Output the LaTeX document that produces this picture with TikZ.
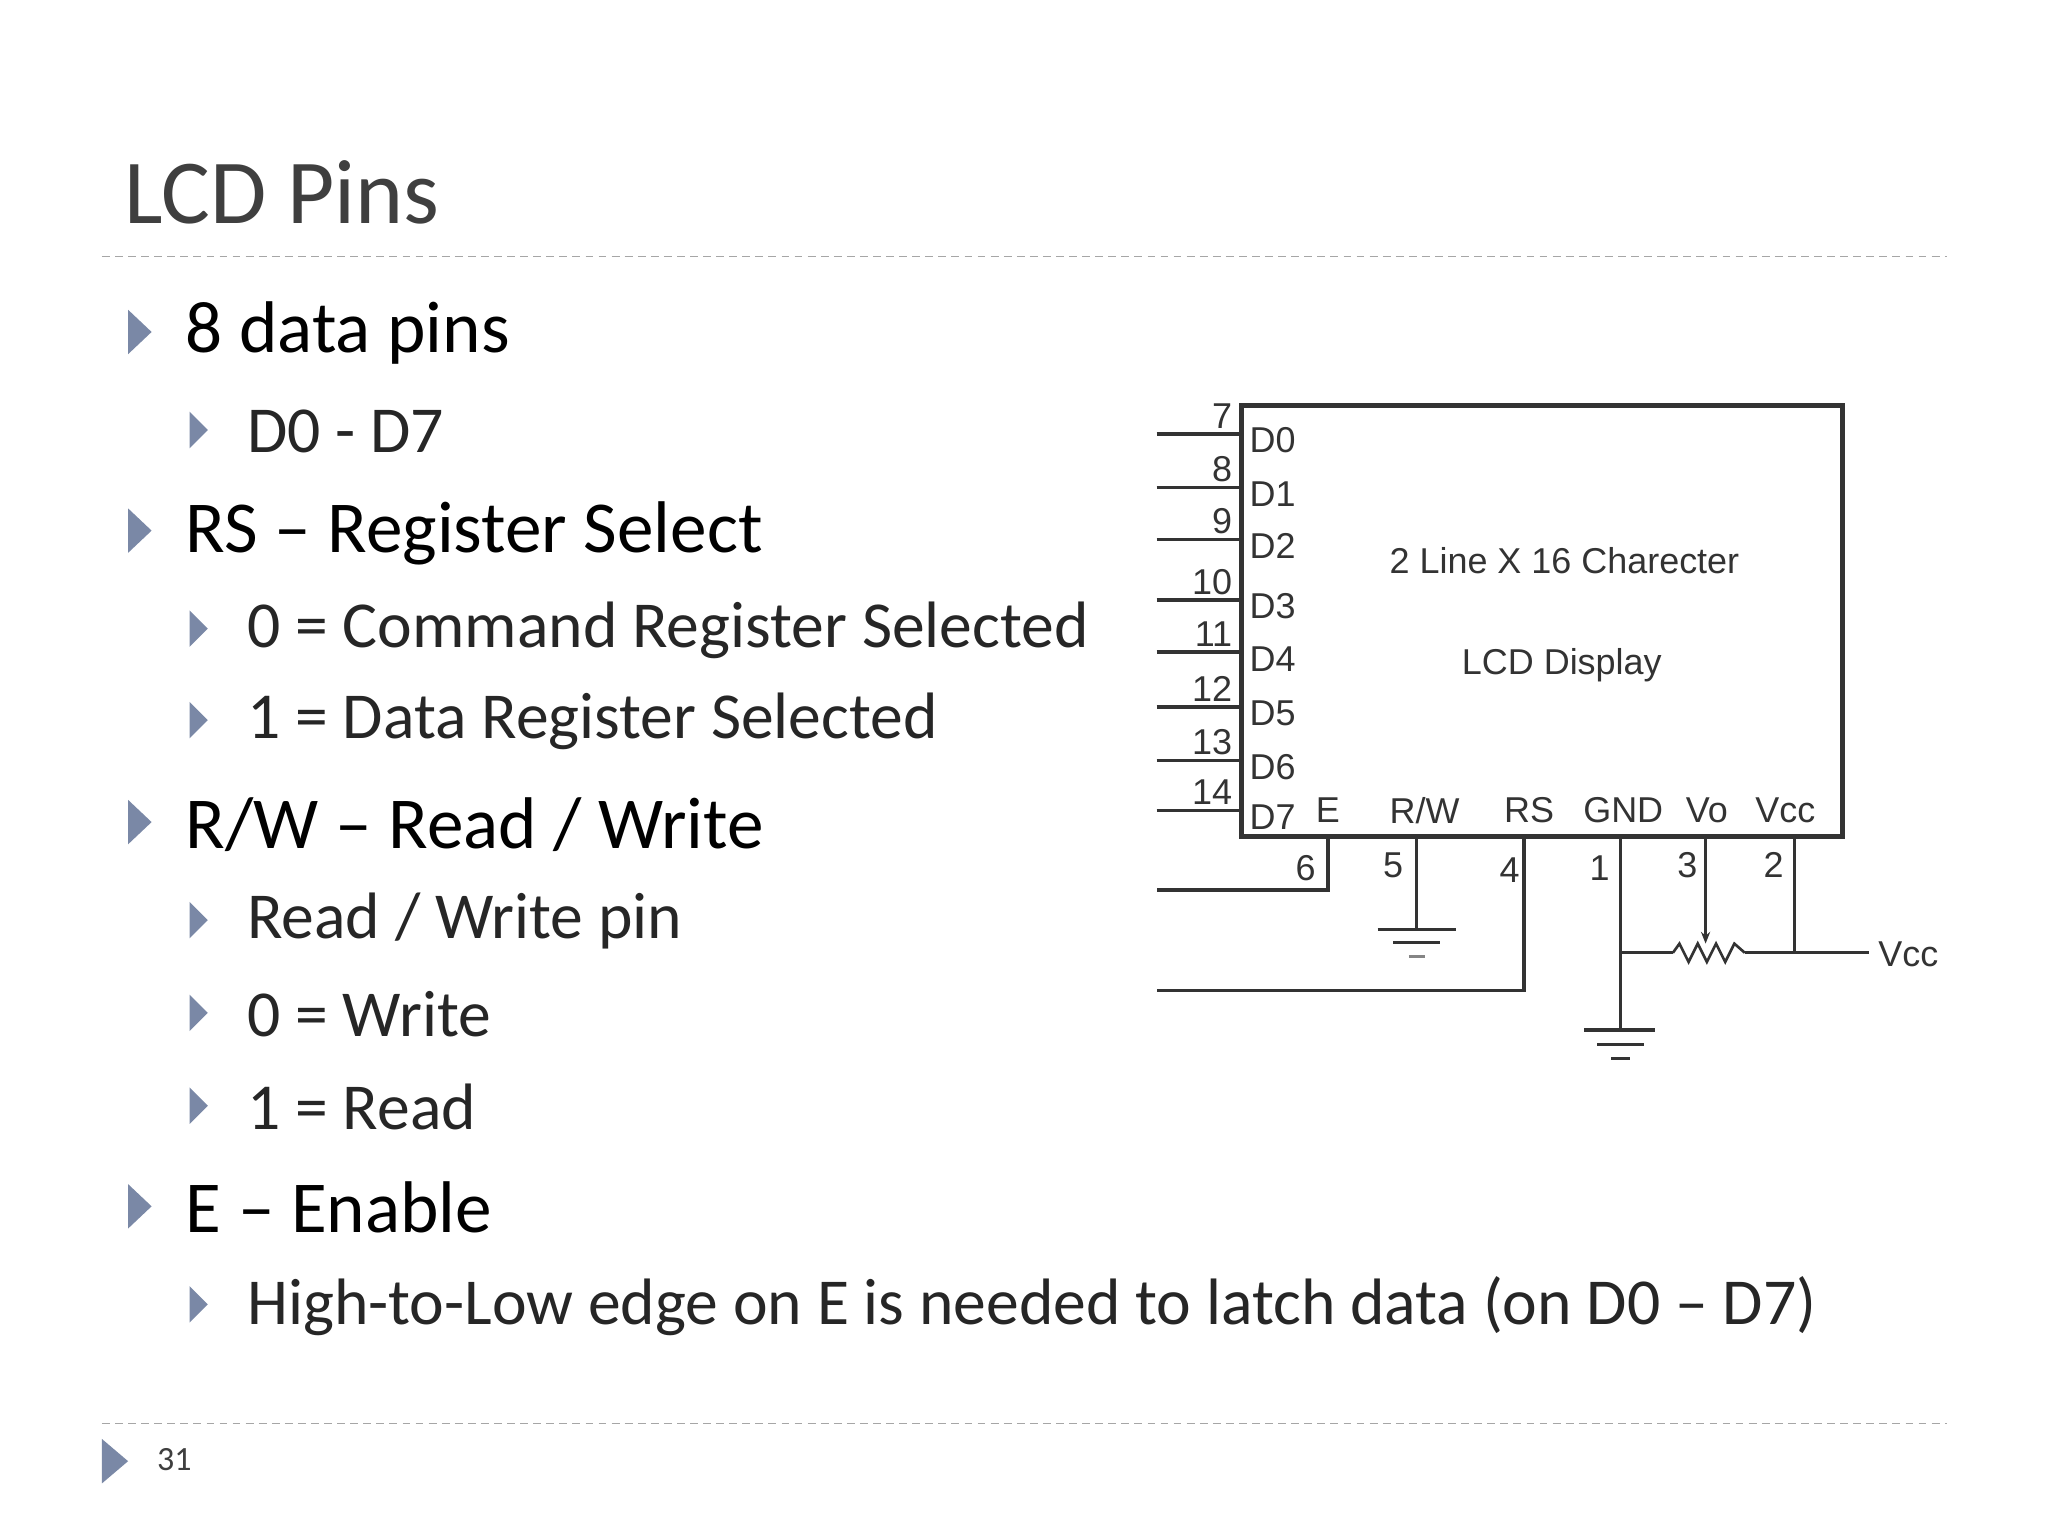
\documentclass[tikz,border=0pt]{standalone}
\usepackage{fontspec}
\usetikzlibrary{arrows.meta}
\setmainfont{Carlito}
\newfontfamily\arial{Liberation Sans}
\definecolor{bul}{HTML}{7A88A6}
\definecolor{ttl}{HTML}{3F3F3F}
\definecolor{txt}{HTML}{262626}
\definecolor{ckt}{HTML}{333333}
\definecolor{dsh}{HTML}{A6A6A6}
\tikzset{
  lone/.style={anchor=west,inner sep=0,font=\fontsize{56}{60}\selectfont,text=black},
  ltwo/.style={anchor=west,inner sep=0,font=\fontsize{50.2}{53}\selectfont,text=txt},
  ctext/.style={inner sep=0,font=\arial\fontsize{27.5}{30}\selectfont,text=ckt},
  wire/.style={draw=ckt,line width=2.6pt},
}
\newcommand{\bulA}[1]{\fill[bul] (98,#1-17) -- (116,#1) -- (98,#1+17) -- cycle;}
\newcommand{\bulB}[1]{\fill[bul] (145,#1-14) -- (159,#1) -- (145,#1+14) -- cycle;}
\begin{document}
\begin{tikzpicture}[x=1pt,y=-1pt]
\useasboundingbox (0,0) rectangle (1567,1175);
\fill[white] (0,0) rectangle (1567,1175);
\node[anchor=base west,inner sep=0,font=\fontsize{70}{74}\selectfont,text=ttl] (title) at (95,171) {LCD Pins};
\draw[dsh,line width=1pt,dash pattern=on 6pt off 4pt] (78,196) -- (1490,196);
\draw[dsh,line width=1pt,dash pattern=on 6pt off 4pt] (78,1089) -- (1490,1089);
\bulA{254}\node[lone] (a1) at (142,255) {8 data pins};
\bulB{329}\node[ltwo] (b1) at (189,330) {D0 - D7};
\bulA{406}\node[lone] (a2) at (142,408) {RS – Register Select};
\bulB{481}\node[ltwo] (b2) at (189,482) {0 = Command Register Selected};
\bulB{551}\node[ltwo] (b3) at (189,552) {1 = Data Register Selected};
\bulA{629}\node[lone] (a3) at (142,631) {R/W – Read / Write};
\bulB{704}\node[ltwo] (b4) at (189,705) {Read / Write pin};
\bulB{775}\node[ltwo] (b5) at (189,776) {0 = Write};
\bulB{846}\node[ltwo] (b6) at (189,847) {1 = Read};
\bulA{923}\node[lone] (a4) at (142,924) {E – Enable};
\bulB{998}\node[ltwo] (b7) at (189,999) {High-to-Low edge on E is needed to latch data (on D0 – D7)};
\fill[bul] (78,1101) -- (98,1118) -- (78,1135) -- cycle;
\node[anchor=west,inner sep=0,font=\fontsize{26}{28}\selectfont,text=ttl] (pg) at (120,1117) {31};
% circuit
\draw[ckt,line width=4pt] (950,310) rectangle (1410,640);
\node[ctext] (t1) at (1197,429) {2 Line X 16 Charecter};
\node[ctext] (t2) at (1195,509) {LCD Display};
\foreach \y/\n/\d in {332/7/0,373/8/1,413/9/2,459/10/3,499/11/4,541/12/5,582/13/6,620/14/7}{
  \draw[wire] (885,\y) -- (950,\y);
  \node[ctext,anchor=south east] at (943,\y-4) {\n};
  \node[ctext,anchor=west] at (956,\y+5) {D\d};
}
\foreach \x/\l in {1016/E,1090/{R/W},1170/RS,1242/GND,1306/Vo,1366/Vcc}{
  \node[ctext] at (\x,620) {\l};
}
\draw[wire] (1016,640) -- (1016,681) -- (885,681);
\node[ctext] at (999,664) {6};
\draw[wire] (1084,640) -- (1084,711);
\draw[ckt,line width=2.6pt] (1054,711) -- (1114,711);
\draw[ckt,line width=2pt] (1066,721) -- (1102,721);
\draw[ckt!60,line width=2pt] (1078,732) -- (1090,732);
\node[ctext] at (1066,662) {5};
\draw[wire] (1166,640) -- (1166,758) -- (885,758);
\node[ctext] at (1155,666) {4};
\draw[wire] (1240,640) -- (1240,788);
\draw[ckt,line width=2.6pt] (1212,788) -- (1266,788);
\draw[ckt,line width=2pt] (1222,799) -- (1258,799);
\draw[ckt,line width=2pt] (1233,810) -- (1247,810);
\node[ctext] at (1224,664) {1};
\draw[wire] (1240,729) -- (1280,729);
\draw[ckt,line width=2pt] (1280,729) -- (1285,722) -- (1292,736) -- (1299,722) -- (1306,736) -- (1313,722) -- (1320,736) -- (1327,722) -- (1335,729);
\draw[wire] (1335,729) -- (1430,729);
\draw[wire] (1373,640) -- (1373,729);
\node[ctext] at (1357,662) {2};
\draw[ckt,line width=2pt,-{Stealth[length=9pt,width=7pt]}] (1305,640) -- (1305,722);
\node[ctext] at (1291,662) {3};
\node[ctext,anchor=west] (vcc) at (1437,730) {Vcc};
\end{tikzpicture}
\end{document}
